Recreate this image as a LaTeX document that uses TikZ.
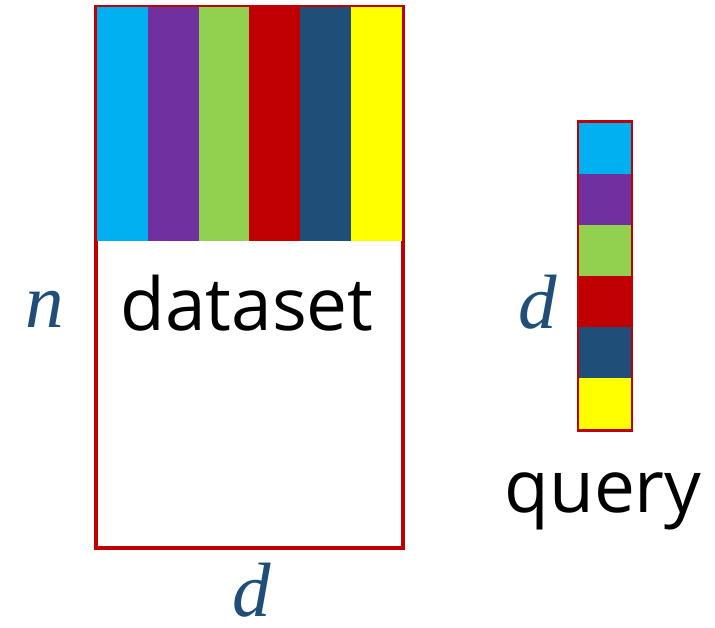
\documentclass[tikz,border=0pt]{standalone}
\usepackage{fontspec}
\setmainfont{Open Sans}
\newfontfamily\letterfont{Liberation Serif}

\definecolor{cellcyan}{HTML}{00B0F0}
\definecolor{cellpurple}{HTML}{7030A0}
\definecolor{cellgreen}{HTML}{92D050}
\definecolor{cellred}{HTML}{C00000}
\definecolor{cellblue}{HTML}{1F4E79}
\definecolor{cellyellow}{HTML}{FFFF00}

\tikzset{
	frame/.style = {draw = cellred, line width = 3.5},
	word/.style = {anchor = base, inner sep = 0, font = \fontsize{73}{80}\selectfont},
	dim/.style = {anchor = base, inner sep = 0, text = cellblue,
		font = \letterfont\itshape\fontsize{77}{84}\selectfont}
}

\begin{document}
\begin{tikzpicture}[x = 1pt, y = -1pt]

	% Definitions

	\def\W{50.8}	% Width of a dataset stripe
	\def\H{51}		% Height of a query cell

	\useasboundingbox (0, 0) rectangle (715, 627);

	% Dataset matrix w/ coloured rows

	\draw [frame] (96, 7) rectangle (403, 548);
	\foreach \c [count = \i from 0] in {cellcyan, cellpurple, cellgreen, cellred, cellblue, cellyellow}
		\fill [\c] ({97 + \W * \i}, 7) rectangle ++ (\W, 234);

	\node [word] (dataset) at (247, 330) {dataset};
	\node [dim] (rows) at (45, 327) {n};
	\node [dim] (cols) at (252, 616) {d};

	% Query vector

	\draw [frame] (579, 122) rectangle (631, 430);
	\foreach \c [count = \i from 0] in {cellcyan, cellpurple, cellgreen, cellred, cellblue, cellyellow}
		\fill [\c] (579, {123 + \H * \i}) rectangle ++ (52, \H);

	\node [dim] (qdim) at (538, 328) {d};
	\node [word] (query) at (603, 512) {query};

\end{tikzpicture}
\end{document}
